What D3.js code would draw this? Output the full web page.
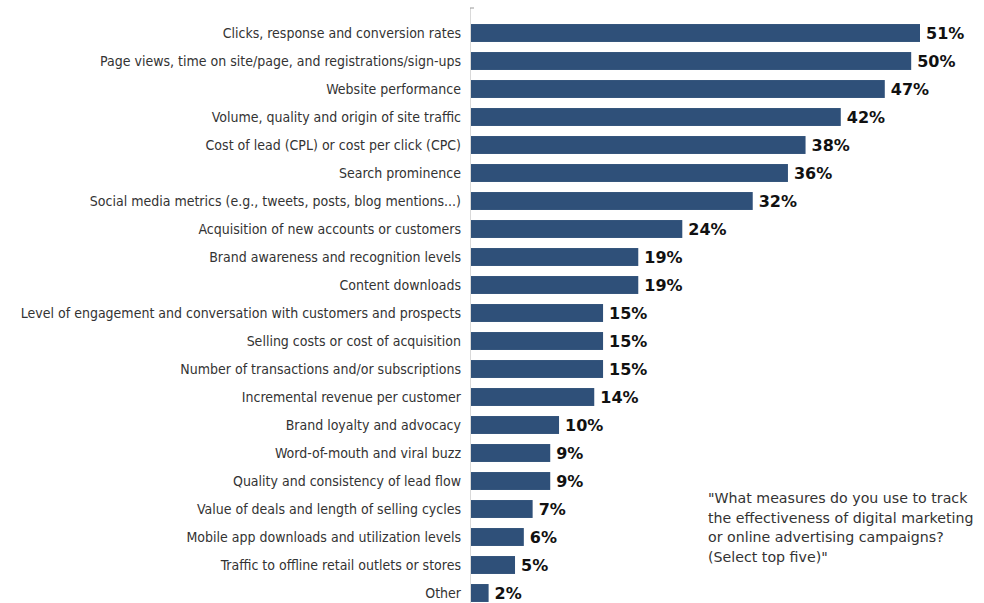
<!DOCTYPE html>
<html>
<head>
<meta charset="utf-8">
<script src="https://cdn.jsdelivr.net/npm/d3@7"></script>
<style>
  body { margin: 0; background: #fff; }
</style>
</head>
<body>
<div id="chart"></div>
<script>
// survey answers, top to bottom
var categories = [
    "Clicks, response and conversion rates",
    "Page views, time on site/page, and registrations/sign-ups",
    "Website performance",
    "Volume, quality and origin of site traffic",
    "Cost of lead (CPL) or cost per click (CPC)",
    "Search prominence",
    "Social media metrics (e.g., tweets, posts, blog mentions...)",
    "Acquisition of new accounts or customers",
    "Brand awareness and recognition levels",
    "Content downloads",
    "Level of engagement and conversation with customers and prospects",
    "Selling costs or cost of acquisition",
    "Number of transactions and/or subscriptions",
    "Incremental revenue per customer",
    "Brand loyalty and advocacy",
    "Word-of-mouth and viral buzz",
    "Quality and consistency of lead flow",
    "Value of deals and length of selling cycles",
    "Mobile app downloads and utilization levels",
    "Traffic to offline retail outlets or stores",
    "Other"
];
var values = [51, 50, 47, 42, 38, 36, 32, 24, 19, 19, 15, 15, 15, 14, 10, 9, 9, 7, 6, 5, 2];
var noteLines = [
    "\"What measures do you use to track",
    "the effectiveness of digital marketing",
    "or online advertising campaigns?",
    "(Select top five)\""
];

var data = categories.map(function (c, i) { return { name: c, value: values[i] }; });

var margin = { top: 19, right: 20, bottom: 5, left: 471 },
    width = 984 - margin.left - margin.right,
    height = 603 - margin.top - margin.bottom;

var svg = d3.select("#chart")
    .append("svg")
    .attr("width", 984)
    .attr("height", 603)
    .append("g")
    .attr("transform", "translate(" + margin.left + "," + margin.top + ")");

var x = d3.scaleLinear()
    .domain([0, 51])
    .range([0, 449]);

var y = d3.scaleBand()
    .domain(categories)
    .range([0, 588])
    .paddingInner(0.36)
    .paddingOuter(0.18);

// faint axis line
svg.append("line")
    .attr("x1", -0.5).attr("x2", -0.5)
    .attr("y1", -11).attr("y2", 584)
    .attr("stroke", "#d9d9d9")
    .attr("stroke-width", 1);
svg.append("line")
    .attr("x1", -1).attr("x2", 3)
    .attr("y1", -11).attr("y2", -11)
    .attr("stroke", "#999");

// category labels
svg.selectAll("text.cat")
    .data(data)
    .enter()
    .append("text")
    .attr("class", "cat")
    .attr("x", -10)
    .attr("y", function (d) { return y(d.name) + y.bandwidth() / 2; })
    .attr("dy", "0.35em")
    .attr("text-anchor", "end")
    .style("font-family", "'DejaVu Sans Condensed', 'DejaVu Sans', sans-serif")
    .style("font-size", "14px")
    .style("fill", "#333")
    .text(function (d) { return d.name; });

// bars
svg.selectAll("rect.bar")
    .data(data)
    .enter()
    .append("rect")
    .attr("class", "bar")
    .attr("x", 0)
    .attr("y", function (d) { return y(d.name); })
    .attr("width", function (d) { return x(d.value); })
    .attr("height", y.bandwidth())
    .attr("fill", "#2f5079");

// value labels
svg.selectAll("text.val")
    .data(data)
    .enter()
    .append("text")
    .attr("class", "val")
    .attr("x", function (d) { return x(d.value) + 6; })
    .attr("y", function (d) { return y(d.name) + y.bandwidth() / 2; })
    .attr("dy", "0.35em")
    .style("font-family", "'DejaVu Sans', sans-serif")
    .style("font-weight", "bold")
    .style("font-size", "16px")
    .style("fill", "#111")
    .text(function (d) { return d.value + "%"; });

// question note
d3.select("svg").append("g")
    .selectAll("text")
    .data(noteLines)
    .enter()
    .append("text")
    .attr("x", 708)
    .attr("y", function (d, i) { return 503 + i * 19.5; })
    .style("font-family", "'DejaVu Sans', sans-serif")
    .style("font-size", "14.2px")
    .style("fill", "#333")
    .text(function (d) { return d; });
</script>
</body>
</html>
